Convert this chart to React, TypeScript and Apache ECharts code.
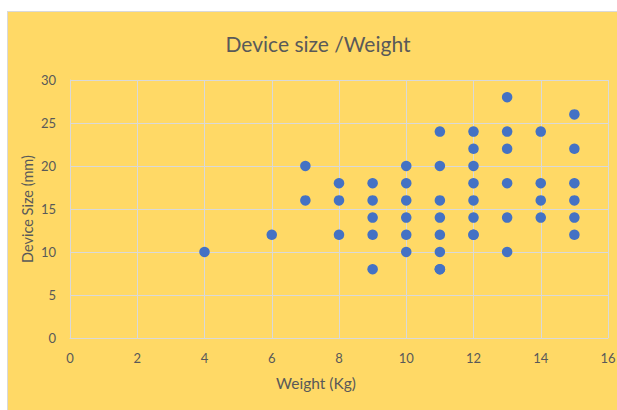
import React, { useEffect, useRef } from "react";
import * as echarts from "echarts";

const weights: number[] = [
  4, 6,
  7, 7,
  8, 8, 8,
  9, 9, 9, 9, 9,
  10, 10, 10, 10, 10, 10,
  11, 11, 11, 11, 11, 11, 11, 11,
  12, 12, 12, 12, 12, 12, 12, 12,
  13, 13, 13, 13, 13, 13,
  14, 14, 14, 14,
  15, 15, 15, 15, 15, 15,
];
const sizes: number[] = [
  10, 12,
  20, 16,
  18, 16, 12,
  18, 16, 14, 12, 8,
  20, 18, 16, 14, 12, 10,
  24, 20, 16, 14, 12, 10, 8, 8,
  24, 22, 20, 18, 16, 14, 12, 12,
  28, 24, 22, 18, 14, 10,
  24, 18, 16, 14,
  26, 22, 18, 16, 14, 12,
];

const titleText = "Device size /Weight";
const xName = "Weight (Kg)";
const yName = "Device Size (mm)";

export default function App() {
  const ref = useRef<HTMLDivElement>(null);
  useEffect(() => {
    if (!ref.current) return;
    const chart = echarts.init(ref.current, undefined, { renderer: "svg" });
    const font = "Lato, 'Open Sans', sans-serif";
    const data = weights.map((w, i) => [w, sizes[i]]);
    const grid = { color: "#D9D9D9", width: 1 };
    chart.setOption({
      animation: false,
      backgroundColor: "#FFD966",
      textStyle: { fontFamily: font },
      title: {
        text: titleText,
        left: "center",
        top: 16,
        textStyle: { fontFamily: font, fontSize: 21, fontWeight: "normal", color: "#595959" },
      },
      grid: { left: 62, right: 20, top: 68, bottom: 72 },
      xAxis: {
        type: "value",
        min: 0,
        max: 16,
        interval: 2,
        axisLine: { show: true, lineStyle: grid },
        axisTick: { show: false },
        splitLine: { show: true, lineStyle: grid },
        axisLabel: { color: "#595959", fontSize: 13, margin: 13, fontFamily: font },
      },
      yAxis: {
        type: "value",
        min: 0,
        max: 30,
        interval: 5,
        axisLine: { show: true, lineStyle: grid },
        axisTick: { show: false },
        splitLine: { show: true, lineStyle: grid },
        axisLabel: { color: "#595959", fontSize: 13, margin: 14, fontFamily: font },
      },
      graphic: [
        {
          type: "text",
          x: 308,
          y: 371,
          style: {
            text: xName,
            fill: "#595959",
            fontSize: 15.5,
            fontFamily: font,
            align: "center",
            verticalAlign: "middle",
          },
        },
        {
          type: "text",
          x: 19,
          y: 197,
          rotation: Math.PI / 2,
          style: {
            text: yName,
            fill: "#595959",
            fontSize: 14.5,
            fontFamily: font,
            align: "center",
            verticalAlign: "middle",
          },
        },
      ],
      series: [
        {
          type: "scatter",
          data,
          symbol: "circle",
          symbolSize: 10.5,
          itemStyle: { color: "#4472C4", opacity: 1 },
        },
      ],
    });
    return () => chart.dispose();
  }, []);
  return (
    <div style={{ position: "fixed", left: 0, top: 0, width: 617, height: 410, overflow: "hidden", background: "#fff" }}>
      <div
        style={{
          position: "absolute",
          left: 7,
          top: 11,
          width: 622,
          height: 400,
          border: "1px solid #D9D9D9",
          boxSizing: "border-box",
        }}
      >
        <div ref={ref} style={{ width: 620, height: 398 }} />
      </div>
    </div>
  );
}
